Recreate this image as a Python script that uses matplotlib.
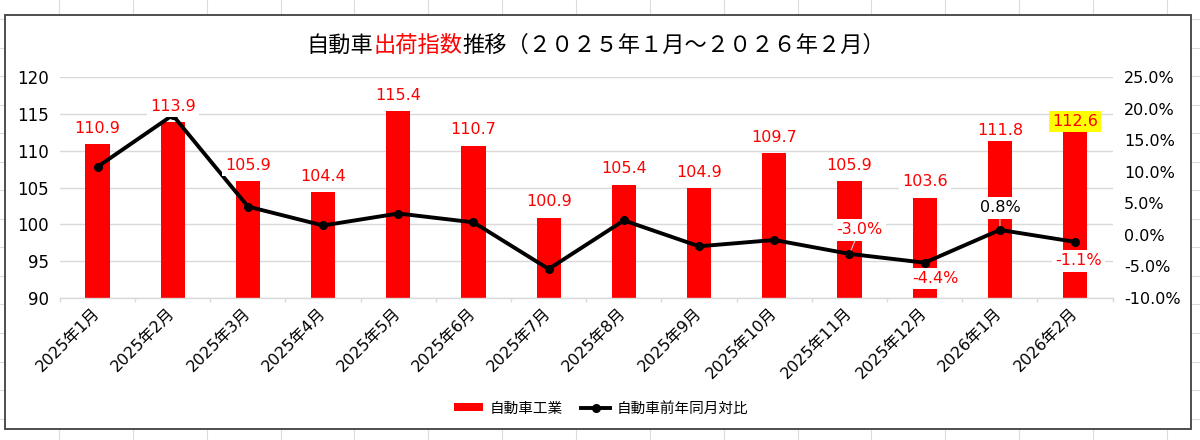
import matplotlib
matplotlib.use("Agg")
import matplotlib.pyplot as plt
from matplotlib.patches import Rectangle
import numpy as np

# ---------------- data ----------------
categories = ["2025年1月", "2025年2月", "2025年3月", "2025年4月", "2025年5月",
              "2025年6月", "2025年7月", "2025年8月", "2025年9月", "2025年10月",
              "2025年11月", "2025年12月", "2026年1月", "2026年2月"]
index_values = [110.9, 113.9, 105.9, 104.4, 115.4, 110.7, 100.9,
                105.4, 104.9, 109.7, 105.9, 103.6, 111.8, 112.6]
yoy_values = [10.8, 19.0, 4.5, 1.5, 3.4, 2.0, -5.4,
              2.3, -1.8, -0.8, -3.0, -4.4, 0.8, -1.1]
yoy_labeled = [False] * 10 + [True] * 4
highlight_bar = 13

left_ticks = [90, 95, 100, 105, 110, 115, 120]
right_ticks = [-10, -5, 0, 5, 10, 15, 20, 25]

title_parts = [("自動車", "black"), ("出荷指数", "#ff0000"),
               ("推移（２０２５年１月～２０２６年２月）", "black")]
bar_name = "自動車工業"
line_name = "自動車前年同月対比"

# ---------------- style ----------------
RED = "#ff0000"
GRID = "#d9d9d9"
bar_label_dy = [16] * 12 + [7, 10]                     # pixels above bar top
yoy_label_offsets = {10: (10, 24), 11: (11, -16), 12: (0, 22), 13: (3, -19)}
yoy_leader = {10: True, 11: False, 12: True, 13: False}

plt.rcParams["font.family"] = ["DejaVu Sans", "Noto Sans CJK JP"]
plt.rcParams["axes.unicode_minus"] = False

W, H = 1200, 440
fig = plt.figure(figsize=(W / 100, H / 100), dpi=100)
fig.patch.set_facecolor("white")

# background: spreadsheet cell grid and chart frame
bg = fig.add_axes([0, 0, 1, 1], zorder=-10)
bg.set_xlim(0, W)
bg.set_ylim(H, 0)
bg.axis("off")
for xv in np.arange(59, W, 73.86):
    bg.axvline(xv, color="#dcdcdc", lw=0.8, zorder=1)
for yv in np.arange(19, H, 28.55):
    bg.axhline(yv, color="#dcdcdc", lw=0.8, zorder=1)
bg.add_patch(Rectangle((5, 15), 1186, 414, facecolor="white",
                       edgecolor="#404040", lw=1.3, zorder=5))

# main axes
ax = fig.add_axes([59.9 / W, 1 - 298 / H, (1112.7 - 59.9) / W, (298 - 77.3) / H], zorder=1)
ax.set_facecolor("none")
x = np.arange(len(categories))
bars = ax.bar(x, index_values, width=0.32, color=RED, zorder=2)
ax.set_xlim(-0.5, len(categories) - 0.5)
ax.set_ylim(left_ticks[0], left_ticks[-1])
ax.set_yticks(left_ticks)
ax.yaxis.grid(True, color=GRID, lw=1.0)
ax.set_axisbelow(True)
for s in ("top", "left", "right"):
    ax.spines[s].set_visible(False)
ax.spines["bottom"].set_color(GRID)
ax.spines["bottom"].set_linewidth(1.0)
ax.tick_params(axis="y", length=0, pad=8, labelsize=12)
ax.set_xticks(x)
ax.set_xticklabels(categories, rotation=45, ha="right", va="center",
                   rotation_mode="anchor")
ax.tick_params(axis="x", which="major", length=0, pad=9, labelsize=11.5)
ax.set_xticks(np.arange(-0.5, len(categories), 1), minor=True)
ax.tick_params(axis="x", which="minor", length=3, color=GRID, width=1)

ax2 = ax.twinx()
ax2.set_ylim(right_ticks[0], right_ticks[-1])
ax2.set_yticks(right_ticks)
ax2.set_yticklabels([f"{v:.1f}%" for v in right_ticks])
ax2.tick_params(axis="y", length=0, pad=8, labelsize=11.5)
for s in ax2.spines.values():
    s.set_visible(False)
line, = ax2.plot(x, yoy_values, color="black", lw=2.8, marker="o", ms=5.5,
                 zorder=3, solid_joinstyle="round")

# bar labels (above the line)
for i, v in enumerate(index_values):
    fc = "#ffff00" if i == highlight_bar else "white"
    ax2.annotate(f"{v:.1f}", xy=(i, v), xycoords=ax.transData,
                 xytext=(0, bar_label_dy[i]), textcoords="offset pixels",
                 ha="center", va="center", color=RED, fontsize=11.5,
                 bbox=dict(boxstyle="square,pad=0.2", fc=fc, ec="none"),
                 zorder=6)

# line labels
for i, v in enumerate(yoy_values):
    if not yoy_labeled[i]:
        continue
    dx, dy = yoy_label_offsets[i]
    kw = {}
    if yoy_leader[i]:
        kw["arrowprops"] = dict(arrowstyle="-", color="#d0d0d0", lw=0.8,
                                shrinkA=0, shrinkB=3)
    ax2.annotate(f"{v:.1f}%", xy=(i, v), xytext=(dx, dy),
                 textcoords="offset pixels", ha="center", va="center",
                 color=RED if v < 0 else "black", fontsize=11.5,
                 bbox=dict(boxstyle="square,pad=0.2", fc="white", ec="none"),
                 zorder=6, **kw)

# legend
fig.legend([bars, line], [bar_name, line_name], loc="center",
           bbox_to_anchor=(601 / W, 1 - 408 / H), ncol=2, frameon=False,
           fontsize=10.5, handlelength=2.0, handleheight=0.5,
           handletextpad=0.4, columnspacing=1.3)

# multi-coloured title
title_y = 1 - 45 / H
texts = [fig.text(0, title_y, s, color=c, fontsize=16, family=["Noto Sans CJK JP"],
                  ha="left", va="center") for s, c in title_parts]
fig.canvas.draw()
r = fig.canvas.get_renderer()
widths = [t.get_window_extent(r).width for t in texts]
xpos = 596 - sum(widths) / 2
for t, w in zip(texts, widths):
    t.set_x(xpos / W)
    xpos += w

fig.savefig("out.png", dpi=100)
